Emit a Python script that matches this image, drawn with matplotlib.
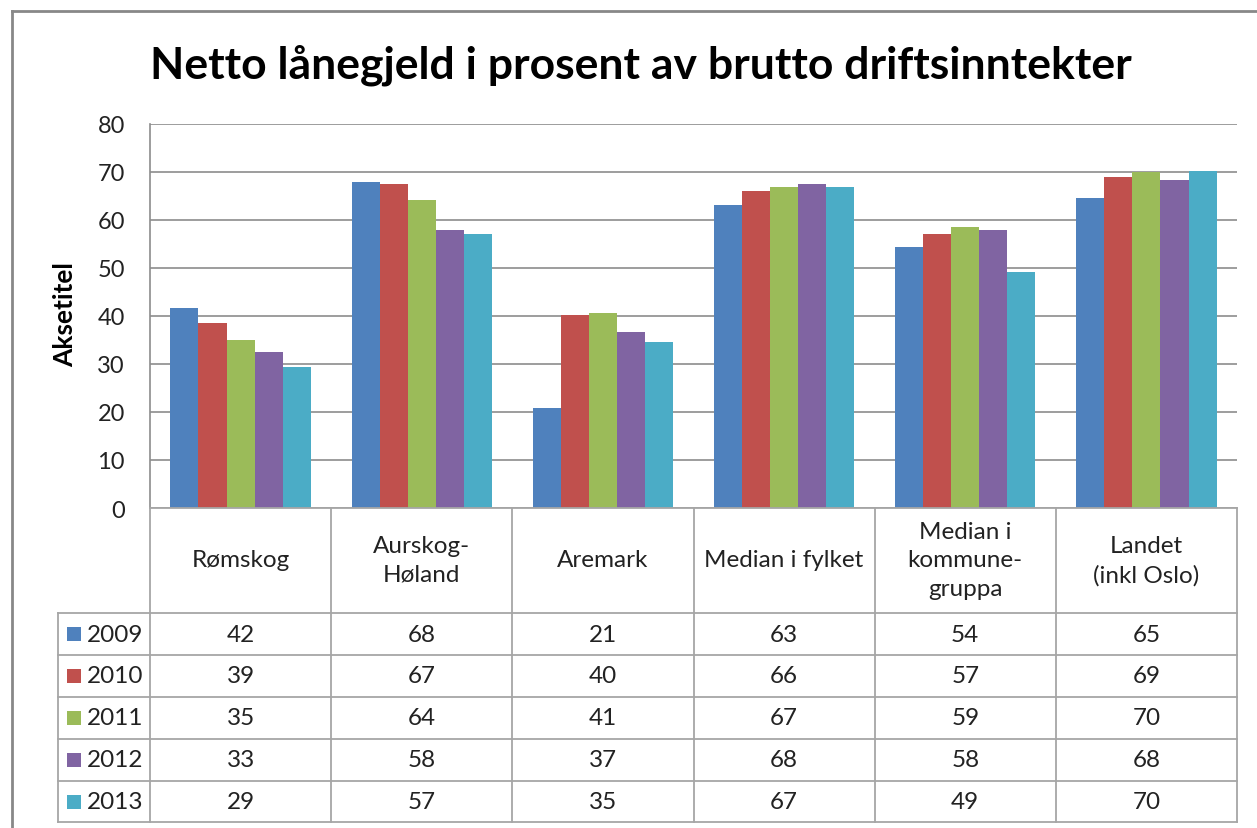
import matplotlib
matplotlib.use("Agg")
import matplotlib.pyplot as plt
import numpy as np
from matplotlib.lines import Line2D
from matplotlib.patches import Rectangle
from matplotlib.transforms import blended_transform_factory

plt.rcParams['font.family'] = ['Lato', 'DejaVu Sans']

categories = ["Rømskog", "Aurskog-\nHøland", "Aremark", "Median i fylket",
              "Median i\nkommune-\ngruppa", "Landet\n(inkl Oslo)"]
years = ["2009", "2010", "2011", "2012", "2013"]
v2009 = [41.7, 67.9, 20.8, 63.1, 54.3, 64.6]
v2010 = [38.6, 67.4, 40.2, 66.0, 57.0, 69.0]
v2011 = [35.1, 64.2, 40.7, 66.9, 58.6, 69.9]
v2012 = [32.6, 58.0, 36.7, 67.6, 58.0, 68.4]
v2013 = [29.3, 57.0, 34.6, 66.9, 49.2, 70.3]
series = [v2009, v2010, v2011, v2012, v2013]
colors = ["#4F81BD", "#C0504D", "#9BBB59", "#8064A2", "#4BACC6"]
title = "Netto lånegjeld i prosent av brutto driftsinntekter"
ylabel = "Aksetitel"

W, H = 1257, 829
fig = plt.figure(figsize=(W / 100, H / 100), dpi=100)

def fx(p):
    return p / W

def fy(p):
    return 1 - p / H

ax_l, ax_r, ax_t, ax_b = 150, 1237, 125, 509
ax = fig.add_axes([fx(ax_l), fy(ax_b), fx(ax_r - ax_l), (ax_b - ax_t) / H])

n = len(categories)
x = np.arange(n)
bw = 0.155
for j, (vals, c) in enumerate(zip(series, colors)):
    ax.bar(x + (j - 2) * bw, vals, width=bw, color=c, zorder=3, linewidth=0)

ax.set_xlim(-0.5, n - 0.5)
ax.set_ylim(0, 80)
ax.set_yticks(range(0, 81, 10))
ax.set_xticks([])
ax.yaxis.grid(True, color="#8c8c8c", linewidth=1.2, zorder=0)
for s in ["top", "right", "bottom"]:
    ax.spines[s].set_visible(False)
ax.spines["left"].set_color("#8c8c8c")
ax.spines["left"].set_linewidth(1.2)
ax.tick_params(axis="y", length=0, labelsize=17, labelcolor="#222222", pad=18)
fig.text(fx(65), fy(315), ylabel, rotation=90, ha="center", va="center",
         fontsize=19, fontweight="bold", color="#000000")

fig.text(fx(641), fy(65), title, ha="center", va="center", fontsize=32,
         fontweight="bold", color="#000000")

# outer frame
fig.add_artist(Line2D([fx(12), fx(12)], [fy(12), 0], transform=fig.transFigure,
                      color="#888888", lw=2))
fig.add_artist(Line2D([fx(12), 1], [fy(12), fy(12)], transform=fig.transFigure,
                      color="#888888", lw=2))

# data table
tr = blended_transform_factory(ax.transData, fig.transFigure)
lc = "#a6a6a6"
row_edges = [509, 614, 656, 698, 740, 782, 823]
lab_left = 58
fig.add_artist(Line2D([fx(ax_l), fx(ax_r)], [fy(509), fy(509)],
                      transform=fig.transFigure, color=lc, lw=1.3))
for yp in row_edges[1:]:
    fig.add_artist(Line2D([fx(lab_left), fx(ax_r)], [fy(yp), fy(yp)],
                          transform=fig.transFigure, color=lc, lw=1.3))
for b in np.arange(-0.5, n, 1.0):
    fig.add_artist(Line2D([b, b], [fy(509), fy(823)], transform=tr,
                          color=lc, lw=1.3, clip_on=False))
fig.add_artist(Line2D([fx(lab_left), fx(lab_left)], [fy(614), fy(823)],
                      transform=fig.transFigure, color=lc, lw=1.3))

for i, cat in enumerate(categories):
    fig.text(i, fy(561), cat, transform=tr, ha="center", va="center",
             fontsize=17.5, color="#222222", linespacing=1.45)

for r, (yr, vals, c) in enumerate(zip(years, series, colors)):
    yc = (row_edges[r + 1] + row_edges[r + 2]) / 2
    fig.add_artist(Rectangle((fx(67), fy(yc + 7)), fx(14), 14 / H,
                             transform=fig.transFigure, facecolor=c,
                             edgecolor="none"))
    fig.text(fx(87), fy(yc), yr, ha="left", va="center", fontsize=17.5,
             color="#222222")
    for i, v in enumerate(vals):
        fig.text(i, fy(yc), f"{v:.0f}", transform=tr, ha="center",
                 va="center", fontsize=17.5, color="#222222")

fig.savefig("out.png", dpi=100, facecolor="white")
